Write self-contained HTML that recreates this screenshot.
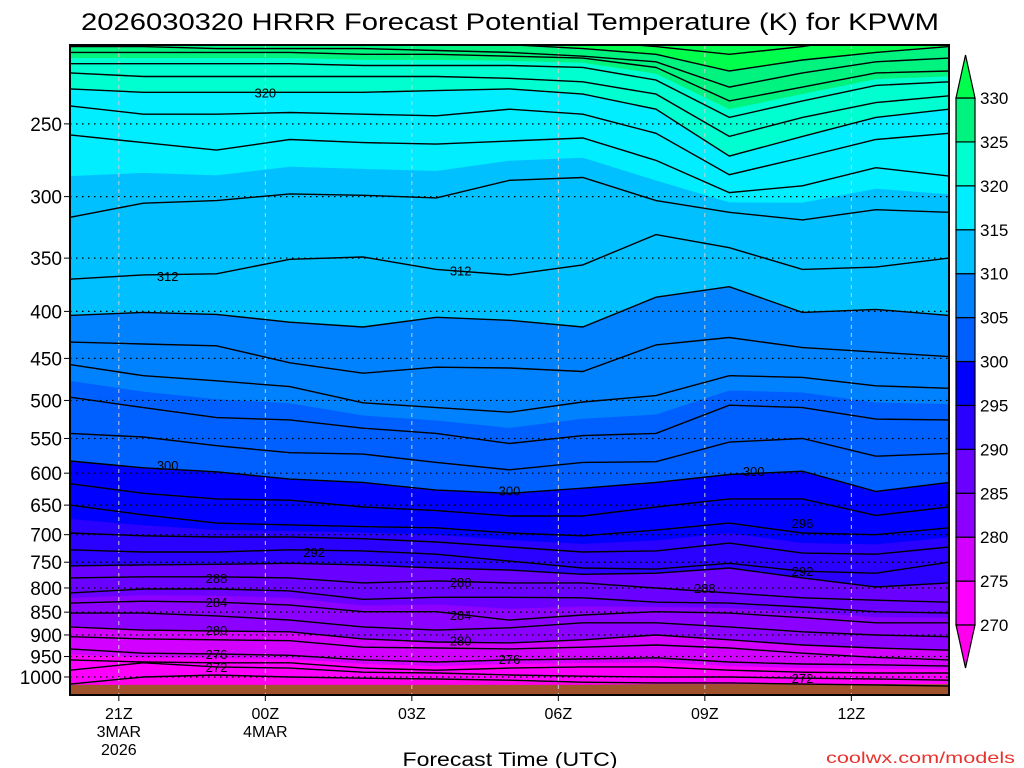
<!DOCTYPE html>
<html><head><meta charset="utf-8">
<style>
html,body{margin:0;padding:0;background:#fff;}
svg{display:block;font-family:"Liberation Sans",sans-serif;}
</style></head>
<body>
<svg id="chart" width="1024" height="768" viewBox="0 0 1024 768" xmlns="http://www.w3.org/2000/svg">
<defs><clipPath id="plotclip"><rect x="70" y="45" width="879" height="650"/></clipPath></defs>
<text x="510" y="30" text-anchor="middle" font-size="24" textLength="858" lengthAdjust="spacingAndGlyphs">2026030320 HRRR Forecast Potential Temperature (K) for KPWM</text>
<g id="fills" clip-path="url(#plotclip)"></g>
<g id="grid" clip-path="url(#plotclip)"></g>
<g id="lines" clip-path="url(#plotclip)"></g>
<g id="labels"></g>
<rect x="70" y="45" width="879" height="650" fill="none" stroke="#000" stroke-width="2"/>
<g id="yaxis"></g>
<g id="xaxis"></g>
<g id="cbar"></g>
<text x="510" y="766" text-anchor="middle" font-size="19" textLength="215" lengthAdjust="spacingAndGlyphs">Forecast Time (UTC)</text>
<text x="1015" y="763" text-anchor="end" font-size="16" fill="#e8322e" textLength="189" lengthAdjust="spacingAndGlyphs">coolwx.com/models</text>
</svg>
<script>
const hours=[0,1.5,3,4.5,6,7.5,9,10.5,12,13.5,15,16.5,18];
const xTickHours=[1,4,7,10,13,16];
const xTickLabels=["21Z","00Z","03Z","06Z","09Z","12Z"];
const xTickSub1=["3MAR","4MAR","","","",""];
const xTickSub2=["2026","","","","",""];
const yTicks=[250,300,350,400,450,500,550,600,650,700,750,800,850,900,950,1000];
const th270=[1018,1000,995,1000,1003,1005,1008,1013,1015,1015,1018,1020,1023];
const th272=[983,965,975,978,988,990,995,998,1000,1000,1003,1005,1008];
const th274=[958,963,965,965,978,983,978,975,975,983,988,990,990];
const th276=[932,942,944,947,958,963,958,956,953,963,968,970,973];
const th278=[904,909,911,913,928,930,932,928,923,930,942,952,958];
const th280=[882,889,891,893,909,916,918,911,900,911,923,930,935];
const th282=[852,852,858,867,882,889,884,873,873,882,893,900,904];
const th284=[831,827,829,835,849,849,867,856,849,852,862,873,873];
const th286=[810,802,802,806,823,819,819,820,829,831,839,849,852];
const th288=[780,778,778,780,790,786,790,790,800,810,820,825,829];
const th290=[757,755,754,752,755,761,765,773,771,761,780,798,790];
const th292=[727,731,731,727,729,735,748,761,763,752,767,771,750];
const th294=[697,702,704,704,707,713,722,731,729,715,733,735,722];
const th296=[650,666,680,683,686,688,697,702,692,680,697,700,688];
const th298=[616,631,640,642,653,659,668,668,653,640,640,667,653];
const th300=[582,592,598,609,614,626,631,623,614,602,597,628,614];
const th302=[543,548,560,570,572,584,595,584,583,555,550,575,571];
const th304=[496,509,522,525,536,543,557,546,543,506,509,524,525];
const th306=[457,470,476,483,503,509,515,502,494,470,472,482,485];
const th308=[432,434,436,455,467,460,461,465,435,427,438,443,448];
const th310=[404,401,403,411,416,406,409,416,386,376,401,398,404];
const th312=[369,365,364,351,349,360,365,356,330,341,360,358,350];
const th314=[316,305,303,298,299,301,288,286,303,312,318,310,312];
const th316=[257,262,267,260,262,263,261,259,274,297,292,279,285];
const th318=[239,244,244,243,244,245,241,244,256,284,272,260,256];
const th320=[229,231,231,231,231,230,229,232,241,271,258,246,241];
const th322=[220,222,222,222,222,222,223,225,232,258,246,237,233];
const th324=[215,215,215,215,216,216,216,217,224,246,236,227,225];
const th326=[209,209,209,209,210,210,211,212,217,236,228,220,219];
const th328=[206,206,207,207,207,208,209,211,214,228,220,214,212];
const th330=[203,203,204,204,204,204,205,207,210,219,213,209,206];
const th332=[195,195,195,195,195,195,198,203,206,210,206,200,195];
const surfaceP=[1020,1020,1020,1020,1020,1020,1020,1020,1018,1018,1018,1018,1018];
const lineLevels=[270,272,274,276,278,280,282,284,286,288,290,292,294,296,298,300,302,304,306,308,310,312,314,316,318,320,322,324,326,328,330,332];
const lineData=[th270,th272,th274,th276,th278,th280,th282,th284,th286,th288,th290,th292,th294,th296,th298,th300,th302,th304,th306,th308,th310,th312,th314,th316,th318,th320,th322,th324,th326,th328,th330,th332];
const bandLevels=[270,275,280,285,290,295,300,305,310,315,320,325,330];
const bandColors=["#ff00ee","#ff00ff","#d200ff","#8c00ff","#6a00ff","#2a00ff","#0000ff","#0060ff","#0082ff","#00c0ff","#00eeff","#00ffd0","#00f37e","#00ff4c"];
const contourLabelText=["320","312","312","300","300","300","296","292","292","288","288","288","284","284","280","280","276","276","272","272"];
const contourLabelHour=[4,2,8,2,9,14,15,5,15,3,8,13,3,8,3,8,3,9,3,15];
const contourLabelP=[231,366,361,588,627,597,680,731,767,780,788,800,829,856,889,913,944,956,975,1003];

const NS="http://www.w3.org/2000/svg";
const X0=70,X1=949,PX=(X1-X0)/18;
function xs(h){return X0+h*PX;}
function ys(p){return 677-399*Math.log(1000/p);}
function mk(tag,attrs,parent){const e=document.createElementNS(NS,tag);for(const k in attrs)e.setAttribute(k,attrs[k]);parent.appendChild(e);return e;}

// boundary pressure for value v at column i
function boundaryP(v,i){
  if(v<lineLevels[0])return 1100;
  if(v>lineLevels[lineLevels.length-1])return 150;
  for(let k=0;k<lineLevels.length-1;k++){
    const a=lineLevels[k],b=lineLevels[k+1];
    if(v>=a&&v<=b){
      const la=Math.log(lineData[k][i]),lb=Math.log(lineData[k+1][i]);
      return Math.exp(la+(lb-la)*(v-a)/(b-a));
    }
  }
  return 150;
}
const fills=document.getElementById('fills');
const base=mk('rect',{x:70,y:45,width:879,height:650,fill:bandColors[0]},fills);


bandLevels.forEach((v,j)=>{
  let pts=[];
  hours.forEach((h,i)=>pts.push(xs(h).toFixed(1)+','+ys(boundaryP(v,i)).toFixed(1)));
  pts.push(xs(18)+',30');pts.push(xs(0)+',30');
  const poly=mk('polygon',{points:pts.join(' '),fill:bandColors[j+1]},fills);
  
  
});
// surface
{
  let pts=[];
  hours.forEach((h,i)=>pts.push(xs(h).toFixed(1)+','+ys(surfaceP[i]).toFixed(1)));
  pts.push(xs(18)+',700');pts.push(xs(0)+',700');
  const s=mk('polygon',{points:pts.join(' '),fill:'#a0522d'},fills);
  
  
}
// grid
const grid=document.getElementById('grid');
yTicks.forEach(p=>{
  const l=mk('line',{x1:70,x2:949,y1:ys(p),y2:ys(p),stroke:'#000','stroke-width':1.2,'stroke-dasharray':'1.5,4.5'},grid);
  
  
});
xTickHours.forEach((h,i)=>{
  const l=mk('line',{x1:xs(h),x2:xs(h),y1:45,y2:695,stroke:'#cccccc','stroke-width':1,'stroke-dasharray':'4,4'},grid);
  
  
});
// contour lines
const lines=document.getElementById('lines');
lineData.forEach((arr,k)=>{
  const d=hours.map((h,i)=>(i?'L':'M')+xs(h).toFixed(1)+','+ys(arr[i]).toFixed(1)).join(' ');
  const pth=mk('path',{d:d,fill:'none',stroke:'#000','stroke-width':1.4},lines);
  
  
});
// contour labels
const labels=document.getElementById('labels');
contourLabelText.forEach((t,i)=>{
  const tx=mk('text',{x:xs(contourLabelHour[i]),y:ys(contourLabelP[i])+5,'text-anchor':'middle','font-size':13,fill:'#000'},labels);
  tx.textContent=t;
  
  
});
// y axis
const yax=document.getElementById('yaxis');
yTicks.forEach(p=>{
  const t=mk('text',{x:62,y:ys(p)+7,'text-anchor':'end','font-size':19},yax);
  t.textContent=p;
  
  
  const tk=mk('line',{x1:64,x2:70,y1:ys(p),y2:ys(p),stroke:'#000','stroke-width':1},yax);
  
  
});
// x axis
const xax=document.getElementById('xaxis');
xTickHours.forEach((h,i)=>{
  const tk=mk('line',{x1:xs(h),x2:xs(h),y1:695,y2:701,stroke:'#000','stroke-width':1},xax);
  
  
  [[xTickLabels[i],719],[xTickSub1[i],737],[xTickSub2[i],755]].forEach(([s,yy])=>{
    if(!s)return;
    const t=mk('text',{x:xs(h),y:yy,'text-anchor':'middle','font-size':16},xax);
    t.textContent=s;
    
    
  });
});
// colorbar
const cb=document.getElementById('cbar');
const CB0=625,CBH=(625-98)/12;
function cy(v){return CB0-(v-270)/5*CBH;}
for(let j=0;j<12;j++){
  const r=mk('rect',{x:956,y:cy(bandLevels[j+1]),width:19,height:CBH,fill:bandColors[j+1],stroke:'#000','stroke-width':1.2},cb);
  
  
}
{
  const t1=mk('polygon',{points:'956,98 975,98 965.5,55',fill:bandColors[13],stroke:'#000','stroke-width':1.2},cb);
  
  
  const t2=mk('polygon',{points:'956,625 975,625 965.5,668',fill:bandColors[0],stroke:'#000','stroke-width':1.2},cb);
  
  
}
bandLevels.forEach(v=>{
  const t=mk('text',{x:980,y:cy(v)+6,'font-size':17},cb);
  t.textContent=v;
  
  
});
</script>
</body></html>
